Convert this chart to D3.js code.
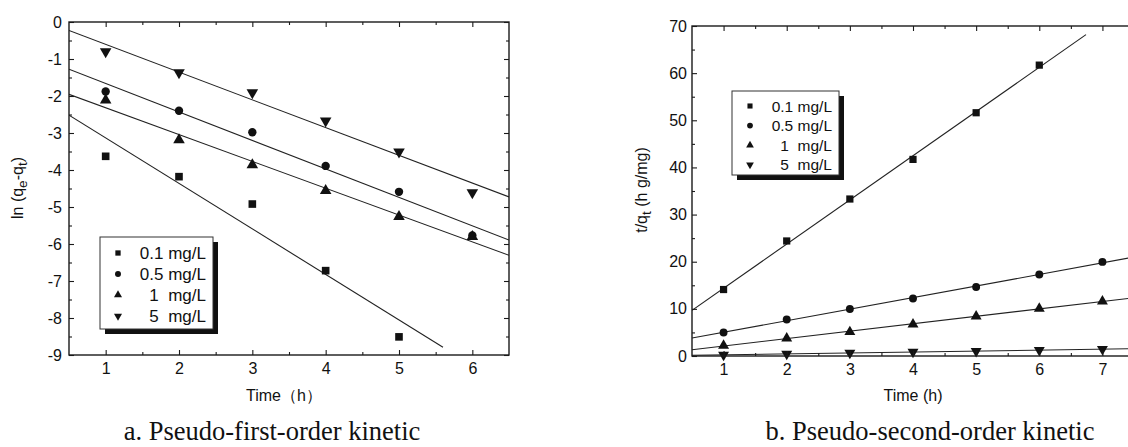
<!DOCTYPE html>
<html>
<head>
<meta charset="utf-8">
<script src="https://cdn.jsdelivr.net/npm/d3@7"></script>
<style>
  body { margin: 0; background: #fff; }
  svg { display: block; font-family: "Liberation Sans", Arial, sans-serif; }
  .axis text { fill: #111; }
  .axis line { stroke: #1a1a1a; }
  .legend-text { white-space: pre; }
</style>
</head>
<body>
<div id="chart"></div>
<script>
// series names (legend text, spaces kept as in the figure)
const seriesNames = ["0.1 mg/L", "0.5 mg/L", "1  mg/L", "5  mg/L"];

// a. pseudo-first-order: ln(qe-qt) vs time
const timeA = [1, 2, 3, 4, 5, 6];
const lnA_01 = [-3.63, -4.18, -4.92, -6.72, -8.51];
const lnA_05 = [-1.88, -2.40, -2.98, -3.89, -4.59, -5.77];
const lnA_1 = [-2.11, -3.19, -3.86, -4.56, -5.26, -5.80];
const lnA_5 = [-0.80, -1.37, -1.91, -2.67, -3.51, -4.61];
const fitEndA = [5.6, 6.5, 6.5, 6.5];

// b. pseudo-second-order: t/qt vs time
const timeB = [1, 2, 3, 4, 5, 6, 7];
const tqB_01 = [14.1, 24.4, 33.3, 41.7, 51.6, 61.7];
const tqB_05 = [4.97, 7.73, 9.98, 12.19, 14.65, 17.28, 19.96];
const tqB_1 = [2.2, 3.76, 5.1, 6.73, 8.43, 10.06, 11.6];
const tqB_5 = [0.25, 0.45, 0.65, 0.85, 1.05, 1.25, 1.45];
const fitEndB = [6.74, 7.5, 7.5, 7.5];

const xTicksA = [1, 2, 3, 4, 5, 6];
const yTicksA = [-9, -8, -7, -6, -5, -4, -3, -2, -1, 0];
const xTicksB = [1, 2, 3, 4, 5, 6, 7];
const yTicksB = [0, 10, 20, 30, 40, 50, 60, 70];

const width = 1128, height = 447;
const svg = d3.select("#chart").append("svg")
    .attr("width", width).attr("height", height);

// marker shapes: square, circle, triangle, inverted triangle
const shapes = [d3.symbolSquare, d3.symbolCircle, d3.symbolTriangle, d3.symbolTriangle];
const rotations = [0, 0, 0, 180];

// least squares fit
function linfit(xs, ys) {
    const n = ys.length;
    const mx = d3.mean(xs.slice(0, n)), my = d3.mean(ys);
    let sxy = 0, sxx = 0;
    for (let i = 0; i < n; i++) {
        sxy += (xs[i] - mx) * (ys[i] - my);
        sxx += (xs[i] - mx) * (xs[i] - mx);
    }
    const k = sxy / sxx;
    return { k: k, b: my - k * mx };
}

// plain hyphen for negatives, like the original figure
const fmt = d => String(d);

function drawPanel(cfg) {
    const x = d3.scaleLinear().domain(cfg.xDomain).range([cfg.left, cfg.right]);
    const y = d3.scaleLinear().domain(cfg.yDomain).range([cfg.bottom, cfg.top]);
    const g = svg.append("g");

    // clip so lines stay inside the frame
    const clipId = "clip-" + cfg.id;
    g.append("clipPath").attr("id", clipId).append("rect")
        .attr("x", cfg.left).attr("y", cfg.top)
        .attr("width", cfg.right - cfg.left).attr("height", cfg.bottom - cfg.top);

    // fit lines
    const lineGen = d3.line().x(d => x(d[0])).y(d => y(d[1]));
    cfg.series.forEach((s, i) => {
        const f = linfit(cfg.times, s);
        const x0 = cfg.xDomain[0], x1 = cfg.fitEnd[i];
        g.append("path")
            .attr("clip-path", `url(#${clipId})`)
            .attr("d", lineGen([[x0, f.k * x0 + f.b], [x1, f.k * x1 + f.b]]))
            .attr("fill", "none")
            .attr("stroke", "#222")
            .attr("stroke-width", 1.1);
    });

    // points
    cfg.series.forEach((s, i) => {
        g.append("g").selectAll("path")
            .data(s)
            .enter().append("path")
            .attr("d", d3.symbol().type(shapes[i]).size(i === 1 ? cfg.msize * 0.95 : cfg.msize))
            .attr("transform", (d, j) => `translate(${x(cfg.times[j])},${y(d)}) rotate(${rotations[i]})`)
            .attr("fill", "#111");
    });

    // axes, ticks pointing inward
    const minorX = d3.range(cfg.xDomain[0] + 1, cfg.xDomain[1], 1);
    const yStep = cfg.yTicks[1] - cfg.yTicks[0];
    const minorY = cfg.yTicks.slice(0, -1).map(v => v + yStep / 2);

    const makers = [d3.axisBottom, d3.axisTop, d3.axisLeft, d3.axisRight];
    const transforms = [
        `translate(0,${cfg.bottom})`, `translate(0,${cfg.top})`,
        `translate(${cfg.left},0)`, `translate(${cfg.right},0)`
    ];
    makers.forEach((mk, k) => {
        const isX = k < 2;
        const sc = isX ? x : y;
        const ax = mk(sc).tickValues(isX ? cfg.xTicks : cfg.yTicks)
            .tickSizeInner(-5).tickSizeOuter(0)
            .tickPadding(isX ? cfg.xPad : cfg.yPad)
            .tickFormat(k === 0 || k === 2 ? fmt : "");
        const a = g.append("g").attr("class", "axis").attr("transform", transforms[k])
            .style("font-size", cfg.tickFont + "px")
            .call(ax);
        a.select(".domain").remove();
        a.selectAll("line").attr("stroke-width", 1.1);

        const mAx = mk(sc)
            .tickValues(isX ? minorX : minorY)
            .tickSizeInner(-3).tickSizeOuter(0).tickFormat("");
        const m = g.append("g").attr("class", "axis").attr("transform", transforms[k]).call(mAx);
        m.select(".domain").remove();
        m.selectAll("line").attr("stroke-width", 1.1);
    });

    // frame
    g.append("rect")
        .attr("x", cfg.left).attr("y", cfg.top)
        .attr("width", cfg.right - cfg.left).attr("height", cfg.bottom - cfg.top)
        .attr("fill", "none").attr("stroke", "#1a1a1a").attr("stroke-width", 1.4);

    // legend with drop shadow
    const L = cfg.legend;
    g.append("rect").attr("x", L.x + 5).attr("y", L.y + 5)
        .attr("width", L.w).attr("height", L.h).attr("fill", "#111");
    g.append("rect").attr("x", L.x).attr("y", L.y)
        .attr("width", L.w).attr("height", L.h)
        .attr("fill", "#fff").attr("stroke", "#333").attr("stroke-width", 1);
    seriesNames.forEach((name, i) => {
        const cy = L.y + L.first + i * L.step;
        g.append("path")
            .attr("d", d3.symbol().type(shapes[i]).size(L.msize))
            .attr("transform", `translate(${L.mx},${cy}) rotate(${rotations[i]})`)
            .attr("fill", "#111");
        g.append("text")
            .attr("class", "legend-text")
            .attr("x", L.tx).attr("y", cy)
            .attr("dy", "0.36em")
            .attr("text-anchor", "end")
            .style("font-size", L.font + "px")
            .attr("fill", "#111")
            .text(name);
    });

    // axis titles
    g.append("text")
        .attr("x", cfg.xLabel.x).attr("y", cfg.xLabel.y)
        .attr("text-anchor", cfg.xLabel.anchor)
        .style("font-size", cfg.labelFont + "px")
        .attr("fill", "#111")
        .text(cfg.xLabel.text);

    const yl = g.append("text")
        .attr("transform", `translate(${cfg.yLabel.x},${cfg.yLabel.y}) rotate(-90)`)
        .attr("text-anchor", "middle")
        .style("font-size", cfg.labelFont + "px")
        .attr("fill", "#111");
    cfg.yLabel.parts.forEach(p => {
        const t = yl.append("tspan").text(p[0]);
        if (p[1]) t.attr("baseline-shift", "-25%").style("font-size", (cfg.labelFont * 0.85) + "px");
    });

    // caption
    svg.append("text")
        .attr("x", cfg.caption.x).attr("y", 440)
        .attr("text-anchor", "middle")
        .style("font-family", "'Liberation Serif', 'Times New Roman', serif")
        .style("font-size", "26.5px")
        .attr("fill", "#111")
        .text(cfg.caption.text);
}

drawPanel({
    id: "a",
    left: 69, right: 509, top: 22, bottom: 355,
    xDomain: [0.5, 6.5], yDomain: [-9, 0],
    xTicks: xTicksA, yTicks: yTicksA,
    times: timeA,
    series: [lnA_01, lnA_05, lnA_1, lnA_5],
    fitEnd: fitEndA,
    msize: 58,
    tickFont: 16, xPad: 8, yPad: 7, labelFont: 16,
    legend: { x: 100, y: 237, w: 113, h: 92, first: 16, step: 21, mx: 118, tx: 206, font: 17, msize: 28 },
    xLabel: { x: 246, y: 401, anchor: "start", text: "Time（h）" },
    yLabel: { x: 23, y: 188, parts: [["ln (q"], ["e", true], ["-q"], ["t", true], [")"]] },
    caption: { x: 272, text: "a. Pseudo-first-order kinetic" }
});

drawPanel({
    id: "b",
    left: 692, right: 1134, top: 26, bottom: 356,
    xDomain: [0.5, 7.5], yDomain: [0, 70],
    xTicks: xTicksB, yTicks: yTicksB,
    times: timeB,
    series: [tqB_01, tqB_05, tqB_1, tqB_5],
    fitEnd: fitEndB,
    msize: 52,
    tickFont: 16, xPad: 8, yPad: 5, labelFont: 16,
    legend: { x: 732, y: 91, w: 107, h: 84, first: 15, step: 19.6, mx: 750, tx: 832, font: 15.5, msize: 26 },
    xLabel: { x: 913, y: 401, anchor: "middle", text: "Time (h)" },
    yLabel: { x: 647, y: 190, parts: [["t/q"], ["t", true], [" (h g/mg)"]] },
    caption: { x: 930, text: "b. Pseudo-second-order kinetic" }
});
</script>
</body>
</html>
